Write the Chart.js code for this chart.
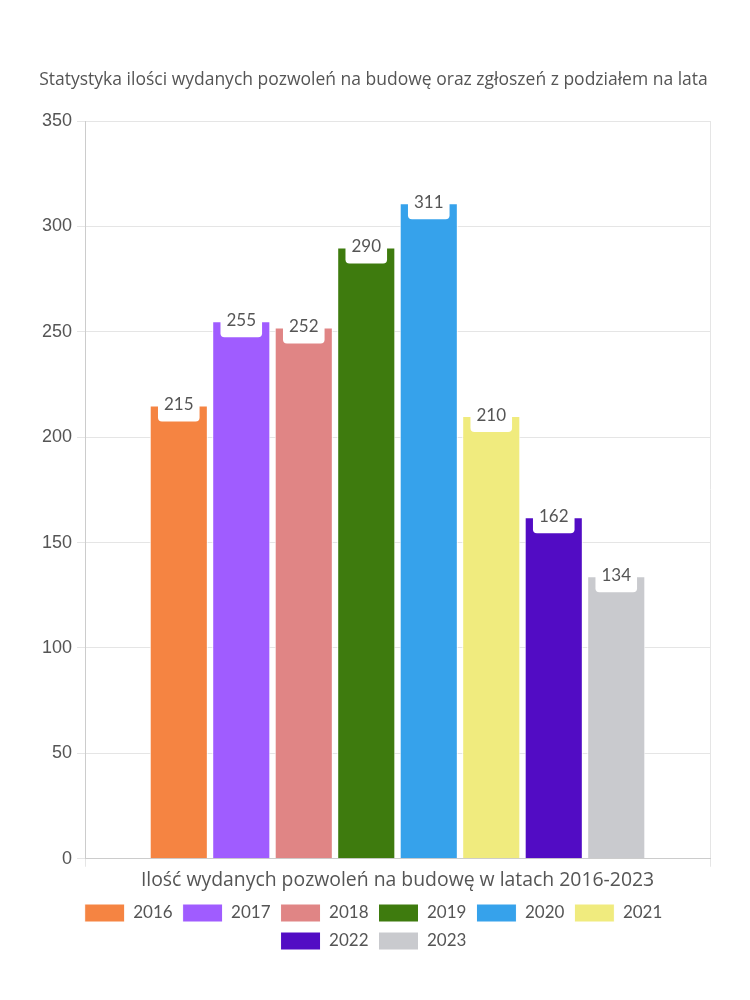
<!DOCTYPE html>
<html>
<head>
<meta charset="utf-8">
<script src="https://cdn.jsdelivr.net/npm/chart.js@4/dist/chart.umd.min.js"></script>
<style>
  html, body { margin: 0; padding: 0; background: #fff; }
</style>
</head>
<body>
<canvas id="myChart" width="750" height="1000"></canvas>
<script>
const category = ['Ilość wydanych pozwoleń na budowę w latach 2016-2023'];
const years = ['2016', '2017', '2018', '2019', '2020', '2021', '2022', '2023'];
const values = [215, 255, 252, 290, 311, 210, 162, 134];
const colors = ['#F58442', '#A05CFF', '#E08585', '#3E7B0E', '#36A2EB', '#F0EB7E', '#520CC4', '#C9CACE'];
const yTicks = [0, 50, 100, 150, 200, 250, 300, 350];

const FONT = "'Open Sans', 'Noto Sans', sans-serif";
const NUMFONT = "Lato, 'Noto Sans', sans-serif";

// white label box sitting on top of each bar
const valueBoxes = {
    id: 'valueBoxes',
    afterDatasetsDraw(chart) {
        const ctx = chart.ctx;
        ctx.save();
        ctx.font = '17px ' + NUMFONT;
        ctx.textAlign = 'center';
        ctx.textBaseline = 'middle';
        chart.data.datasets.forEach((ds, i) => {
            const meta = chart.getDatasetMeta(i);
            meta.data.forEach((bar, j) => {
                const txt = String(ds.data[j]);
                const w = ctx.measureText(txt).width + 12;
                const h = 32;
                const x = bar.x - w / 2, y = bar.y - h / 2;
                ctx.fillStyle = '#fff';
                ctx.beginPath();
                ctx.roundRect(x, y, w, h, 4);
                ctx.fill();
                ctx.fillStyle = '#555';
                ctx.fillText(txt, bar.x, bar.y - 1);
            });
        });
        ctx.restore();
    }
};

let myChart = document.getElementById('myChart').getContext('2d');

let userChart = new Chart(myChart, {
    type: 'bar',
    data: {
        labels: category,
        datasets: years.map((y, i) => ({
            label: y,
            data: [values[i]],
            backgroundColor: colors[i],
            borderColor: '#fff',
            borderWidth: 1,
        }))
    },
    options: {
        responsive: false,
        animation: false,
        devicePixelRatio: 1,
        layout: { padding: { top: 70, left: 37, right: 40, bottom: 40 } },
        datasets: { bar: { categoryPercentage: 0.8, barPercentage: 0.93 } },
        plugins: {
            title: {
                display: true,
                text: 'Statystyka ilości wydanych pozwoleń na budowę oraz zgłoszeń z podziałem na lata',
                color: '#555',
                font: { family: FONT, size: 17.5, weight: 'normal' },
                padding: { top: 0, bottom: 30 }
            },
            legend: {
                position: 'bottom',
                labels: {
                    color: '#555',
                    font: { family: NUMFONT, size: 17 },
                    boxWidth: 40,
                    boxHeight: 18,
                    padding: 10
                }
            },
            tooltip: { enabled: false }
        },
        scales: {
            x: {
                grid: { color: '#e5e5e5', tickLength: 8 },
                border: { color: '#ccc' },
                ticks: { color: '#555', font: { family: FONT, size: 19.4 }, padding: 2 }
            },
            y: {
                min: 0,
                max: 350,
                afterBuildTicks(axis) { axis.ticks = yTicks.map(v => ({ value: v })); },
                grid: { color: '#e5e5e5', tickLength: 8 },
                border: { color: '#ccc' },
                ticks: { color: '#555', font: { family: "'Liberation Sans', Arial, sans-serif", size: 18 }, padding: 5 }
            }
        }
    },
    plugins: [valueBoxes]
});
</script>
</body>
</html>
